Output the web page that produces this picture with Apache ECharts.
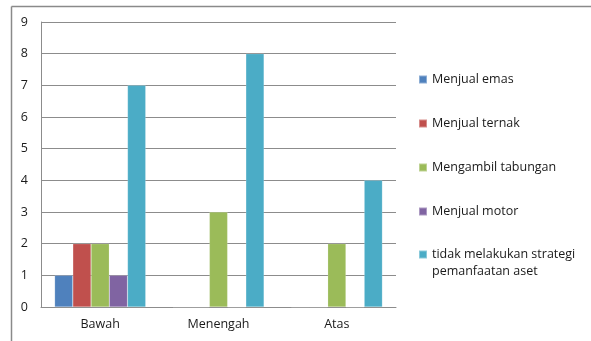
<!DOCTYPE html>
<html>
<head>
<meta charset="utf-8">
<script src="https://cdn.jsdelivr.net/npm/echarts@6/dist/echarts.min.js"></script>
<style>
  html, body { margin: 0; padding: 0; background: #fff; }
  #chart { width: 591px; height: 341px; }
</style>
</head>
<body>
<div id="chart"></div>
<script>
// Strategi pemanfaatan aset per kelompok
const categories = ['Bawah', 'Menengah', 'Atas'];
const seriesNames = [
  'Menjual emas',
  'Menjual ternak',
  'Mengambil tabungan',
  'Menjual motor',
  'tidak melakukan strategi pemanfaatan aset'
];
const menjualEmas = [1, 0, 0];
const menjualTernak = [2, 0, 0];
const mengambilTabungan = [2, 3, 2];
const menjualMotor = [1, 0, 0];
const tidakMelakukan = [7, 8, 4];
const yTicks = [0, 1, 2, 3, 4, 5, 6, 7, 8, 9];

const colors = ['#4F81BD', '#C0504D', '#9BBB59', '#8064A2', '#4BACC6'];
const seriesValues = [menjualEmas, menjualTernak, mengambilTabungan, menjualMotor, tidakMelakukan];

const FONT = 'Open Sans';
const TEXT = '#1a1a1a';
const FS = 12.5;
const LH = 17;

const chart = echarts.init(document.getElementById('chart'), null, { renderer: 'canvas' });

// one legend block per series so each entry can sit at its own height;
// the long label wraps, with a blank first line so its swatch lines up with the first text line
const legendTops = [71, 115, 159, 203, 229];
const legends = seriesNames.map((name, i) => {
  const last = i === seriesNames.length - 1;
  return {
    left: 418,
    top: legendTops[i],
    padding: 0,
    orient: 'vertical',
    itemWidth: 8,
    itemHeight: 8,
    itemGap: 0,
    icon: 'rect',
    selectedMode: false,
    data: [{ name: name }],
    formatter: last ? () => ' \ntidak melakukan strategi\npemanfaatan aset' : undefined,
    textStyle: {
      fontFamily: FONT,
      fontSize: FS,
      color: TEXT,
      lineHeight: LH
    }
  };
});

chart.setOption({
  animation: false,
  color: colors,
  textStyle: { fontFamily: FONT },
  grid: { left: 41, right: 195, top: 22, bottom: 34, containLabel: false },
  legend: legends,
  xAxis: {
    type: 'category',
    data: categories,
    axisLine: { show: true, lineStyle: { color: '#8c8c8c', width: 1 } },
    axisTick: { show: false },
    axisLabel: { color: TEXT, fontFamily: FONT, fontSize: FS, margin: 11 }
  },
  yAxis: {
    type: 'value',
    min: 0,
    max: 9,
    interval: 1,
    axisLine: { show: true, lineStyle: { color: '#8c8c8c', width: 1 } },
    axisTick: { show: false },
    splitLine: { show: true, lineStyle: { color: '#8c8c8c', width: 1 } },
    axisLabel: {
      color: TEXT, fontFamily: FONT, fontSize: FS, margin: 13,
      formatter: v => (yTicks.includes(v) ? String(v) : '')
    }
  },
  series: seriesNames.map((name, i) => ({
    name: name,
    type: 'bar',
    data: seriesValues[i],
    barGap: '0%',
    barCategoryGap: '23%',
    itemStyle: { color: colors[i], borderColor: 'rgba(255,255,255,0.35)', borderWidth: 0.5 }
  })),
  graphic: [
    // outer frame edges
    { type: 'line', shape: { x1: 11.5, y1: 6.5, x2: 591, y2: 6.5 }, style: { stroke: '#8a8a8a', lineWidth: 1.5 } },
    { type: 'line', shape: { x1: 11.5, y1: 6.5, x2: 11.5, y2: 341 }, style: { stroke: '#8a8a8a', lineWidth: 1.5 } }
  ]
});
</script>
</body>
</html>
